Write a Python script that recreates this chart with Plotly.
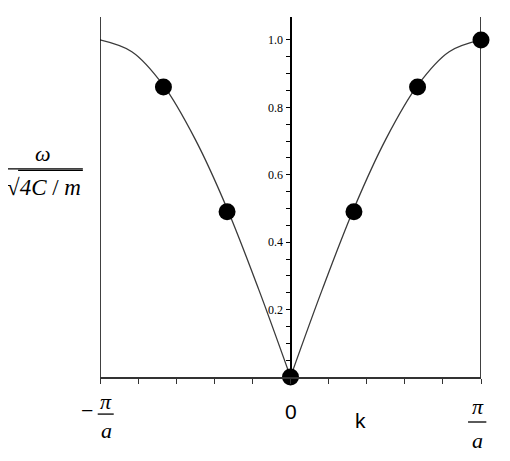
"""Dispersion curve of a monatomic chain (Plotly)."""

import plotly.graph_objects as go

# curve, k in units of pi/a
CURVE_K_LEFT = [-1.0, -0.833, -0.667, -0.5, -0.333, -0.167, 0.0]
CURVE_W_LEFT = [1.0, 0.965, 0.865, 0.705, 0.5, 0.26, 0.0]
CURVE_K_RIGHT = [0.0, 0.167, 0.333, 0.5, 0.667, 0.833, 1.0]
CURVE_W_RIGHT = [0.0, 0.26, 0.5, 0.705, 0.865, 0.965, 1.0]

# the marked points
POINT_K = [-0.667, -0.333, 0.0, 0.333, 0.667, 1.0]
POINT_W = [0.86, 0.49, 0.0, 0.49, 0.86, 1.0]

Y_TICKS = [round(0.05 * i, 2) for i in range(1, 21)]
Y_TICK_TEXT = ["%.1f" % v if i % 4 == 3 else "" for i, v in enumerate(Y_TICKS)]
X_TICKS = [round(-1 + 0.2 * i, 1) for i in range(11)]

LINE_COLOR = "#3a3a3a"
SERIF = "Liberation Serif"
SANS = "Liberation Sans"

fig = go.Figure()
for ks, ws in ((CURVE_K_LEFT, CURVE_W_LEFT), (CURVE_K_RIGHT, CURVE_W_RIGHT)):
    fig.add_trace(go.Scatter(
        x=ks, y=ws, mode="lines", line=dict(color=LINE_COLOR, width=1.3, shape="spline"),
        hoverinfo="skip", cliponaxis=False,
    ))
fig.add_trace(go.Scatter(
    x=POINT_K, y=POINT_W, mode="markers",
    marker=dict(color="black", size=17), cliponaxis=False,
))

# side lines at -pi/a and pi/a
for xv in (-1, 1):
    fig.add_shape(type="line", xref="x", yref="paper", x0=xv, x1=xv, y0=0, y1=1,
                  line=dict(color="black", width=1.5))

fig.update_xaxes(
    range=[-1, 1], showgrid=False, zeroline=False, showline=True, linecolor="#333333", linewidth=1.5,
    ticks="outside", ticklen=5, tickcolor="#333333", tickvals=X_TICKS, showticklabels=False,
)
fig.update_yaxes(
    range=[0, 1.068], anchor="free", position=0.5, showgrid=False, zeroline=False,
    showline=True, linecolor="black", linewidth=2, ticks="outside", ticklen=4, tickcolor="black",
    tickvals=Y_TICKS, ticktext=Y_TICK_TEXT, tickfont=dict(family=SERIF, size=12, color="black"),
)

# axis labels (paper coordinates)
ann = [
    dict(x=-0.034, y=-0.094, text="−", font=dict(family=SERIF, size=22)),
    dict(x=0.016, y=-0.069, text="<i>π</i>", font=dict(family=SERIF, size=22)),
    dict(x=0.016, y=-0.148, text="<i>a</i>", font=dict(family=SERIF, size=22)),
    dict(x=0.501, y=-0.097, text="0", font=dict(family=SANS, size=21)),
    dict(x=0.685, y=-0.121, text="k", font=dict(family=SANS, size=21)),
    dict(x=0.992, y=-0.083, text="<i>π</i>", font=dict(family=SERIF, size=22)),
    dict(x=0.992, y=-0.176, text="<i>a</i>", font=dict(family=SERIF, size=22)),
    # omega / sqrt(4C/m)
    dict(x=-0.150, y=0.622, text="<i>ω</i>", font=dict(family=SERIF, size=22)),
    dict(x=-0.146, y=0.527, text="√<i>4C</i> / <i>m</i>", font=dict(family=SERIF, size=23)),
]
for a in ann:
    a["font"]["color"] = "black"
    fig.add_annotation(xref="paper", yref="paper", showarrow=False,
                       xanchor="center", yanchor="middle", **a)

bars = [
    (-0.006, 0.036, -0.103),
    (0.966, 1.014, -0.125),
    (-0.249, -0.045, 0.578),
    (-0.215, -0.045, 0.574),
]
for x0, x1, yv in bars:
    fig.add_shape(type="line", xref="paper", yref="paper", x0=x0, x1=x1, y0=yv, y1=yv,
                  line=dict(color="black", width=1.3))

# the page body adds an 8px offset, so the margins are shifted to compensate
fig.update_layout(
    width=510, height=461, showlegend=False,
    plot_bgcolor="white", paper_bgcolor="white",
    margin=dict(l=92, r=37, t=9, b=92),
)
fig.write_html("out.html")
